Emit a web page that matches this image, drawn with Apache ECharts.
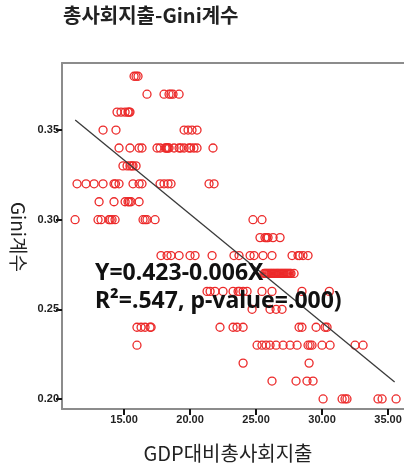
<!DOCTYPE html>
<html>
<head>
<meta charset="utf-8">
<script src="https://cdn.jsdelivr.net/npm/echarts@6/dist/echarts.min.js"></script>
<style>
html,body{margin:0;padding:0;background:#fff;}
#chart{width:404px;height:466px;}
</style>
</head>
<body>
<div id="chart"></div>
<script>
// Gini coefficient levels (y) and the social-spending values (x, % of GDP) read at each level
const gini038 = [15.76, 15.91, 16.06];
const gini037 = [16.74, 18.03, 18.41, 18.55, 18.71, 19.17];
const gini036 = [14.47, 14.77, 15.08, 15.30, 15.38, 15.45];
const gini035 = [13.41, 14.39, 19.55, 19.85, 20.15, 20.53];
const gini034 = [14.62, 15.45, 16.14, 16.36, 17.50, 17.73, 18.11, 18.20, 18.26, 18.33, 18.41, 18.79, 19.17, 19.30, 19.55, 19.92, 20.05, 20.30, 20.53, 21.74];
const gini033 = [14.92, 15.23, 15.45, 15.60, 15.68, 15.91];
const gini032 = [11.44, 12.12, 12.73, 13.41, 14.24, 14.35, 14.62, 15.68, 16.14, 16.36, 17.73, 18.03, 18.33, 18.56, 21.44, 21.82];
const gini031 = [13.11, 14.24, 15.08, 15.30, 15.40, 15.53, 16.14];
const gini030 = [11.29, 13.03, 13.26, 13.86, 13.95, 14.09, 14.32, 16.44, 16.60, 16.74, 17.35, 24.77, 25.45];
const gini029 = [25.30, 25.68, 25.80, 25.91, 26.29, 26.82];
const gini028 = [17.80, 18.26, 18.56, 19.17, 20.00, 20.38, 21.67, 23.33, 23.71, 24.55, 24.85, 25.53, 26.21, 27.73, 28.18, 28.30, 28.56, 28.94];
const gini027 = [25.61, 25.70, 25.78, 25.86, 25.95, 26.03, 26.12, 26.20, 26.29, 26.37, 26.46, 26.55, 26.63, 26.71, 26.80, 26.89, 26.97, 27.06, 27.14, 27.23, 27.31, 27.40, 27.48, 27.57, 27.65, 27.88];
const gini026 = [21.29, 21.52, 21.89, 22.50, 23.26, 23.64, 23.75, 24.02, 24.32, 25.45, 26.21, 28.48, 30.55];
const gini025 = [24.70, 26.06, 26.52, 26.97];
const gini024 = [15.98, 16.29, 16.59, 16.97, 17.05, 22.27, 23.26, 23.56, 24.02, 28.26, 28.48, 29.55, 30.23, 30.38];
const gini023 = [15.98, 25.08, 25.45, 25.76, 26.06, 26.52, 27.05, 27.58, 28.11, 28.94, 29.09, 29.24, 30.00, 30.61, 32.50, 33.11];
const gini022 = [24.02, 29.02];
const gini021 = [26.21, 28.03, 28.86, 29.32];
const gini020 = [30.08, 31.52, 31.74, 31.89, 34.24, 34.55, 35.61];

const giniLevels = [0.38, 0.37, 0.36, 0.35, 0.34, 0.33, 0.32, 0.31, 0.30, 0.29, 0.28, 0.27, 0.26, 0.25, 0.24, 0.23, 0.22, 0.21, 0.20];
const spendingByLevel = [gini038, gini037, gini036, gini035, gini034, gini033, gini032, gini031, gini030, gini029, gini028, gini027, gini026, gini025, gini024, gini023, gini022, gini021, gini020];

// fitted regression line endpoints
const fitX = [11.3, 35.5];
const fitY = [0.3556, 0.2095];

const xTicks = [15, 20, 25, 30, 35];
const yTicks = [0.20, 0.25, 0.30, 0.35];

const titleText = '총사회지출-Gini계수';
const xName = 'GDP대비총사회지출';
const yName = 'Gini계수';
const eqLine1 = 'Y=0.423-0.006X';
const eqLine2 = 'R²=.547, p-value=.000)';

const points = [];
spendingByLevel.forEach((arr, i) => arr.forEach(x => points.push([x, giniLevels[i]])));
const fitData = fitX.map((x, i) => [x, fitY[i]]);

const chart = echarts.init(document.getElementById('chart'), null, {renderer: 'canvas'});
const axisGray = '#8c8c8c';
const tickLabel = {fontSize: 11, fontWeight: 'bold', color: '#222', fontFamily: 'Liberation Sans'};

chart.setOption({
  animation: false,
  backgroundColor: '#fff',
  grid: {left: 62, top: 63, right: 0, bottom: 57, containLabel: false, outerBoundsMode: 'none'},
  xAxis: [{
    type: 'value', position: 'bottom', min: 10.3, max: 36.21,
    axisLine: {show: true, onZero: false, lineStyle: {color: axisGray, width: 2}},
    axisTick: {show: true, customValues: xTicks, length: 6, lineStyle: {color: '#111', width: 2}},
    axisLabel: Object.assign({customValues: xTicks, margin: 5, formatter: v => Number(v).toFixed(2)}, tickLabel),
    splitLine: {show: false}
  }, {
    type: 'value', position: 'top', min: 10.3, max: 36.21,
    axisLine: {show: true, onZero: false, lineStyle: {color: axisGray, width: 2}},
    axisTick: {show: false}, axisLabel: {show: false}, splitLine: {show: false}
  }],
  yAxis: {
    type: 'value', min: 0.1944, max: 0.3874,
    axisLine: {show: true, onZero: false, lineStyle: {color: axisGray, width: 2}},
    axisTick: {show: true, customValues: yTicks, length: 6, lineStyle: {color: '#111', width: 2}},
    axisLabel: Object.assign({customValues: yTicks, margin: 3, formatter: v => Number(v).toFixed(2)}, tickLabel),
    splitLine: {show: false}
  },
  series: [{
    type: 'scatter', xAxisIndex: 0, data: points, symbol: 'circle', symbolSize: 8,
    itemStyle: {color: 'rgba(0,0,0,0)', borderColor: '#ec2a2a', borderWidth: 1.3, opacity: 1},
    emphasis: {disabled: true}, silent: true
  }, {
    type: 'line', xAxisIndex: 0, data: fitData, symbol: 'none',
    lineStyle: {color: '#3a3a3a', width: 1.3}, silent: true, z: 3
  }],
  graphic: [
    {type: 'text', x: 63, y: 15, z: 10, style: {text: titleText, align: 'left', verticalAlign: 'middle', fill: '#222', font: 'bold 20px "Noto Sans CJK KR"'}},
    {type: 'text', x: 228, y: 453, z: 10, style: {text: xName, align: 'center', verticalAlign: 'middle', fill: '#222', font: '20px "Noto Sans CJK KR"'}},
    {type: 'text', x: 18, y: 237, rotation: -Math.PI / 2, z: 10, style: {text: yName, align: 'center', verticalAlign: 'middle', fill: '#222', font: '19px "Noto Sans CJK KR"'}},
    {type: 'text', x: 95, y: 273, z: 10, style: {text: eqLine1, align: 'left', verticalAlign: 'middle', fill: '#111', font: 'bold 23px "Noto Sans"'}},
    {type: 'text', x: 95, y: 301, z: 10, style: {text: eqLine2, align: 'left', verticalAlign: 'middle', fill: '#111', font: 'bold 23px "Noto Sans"'}}
  ]
});
</script>
</body>
</html>
